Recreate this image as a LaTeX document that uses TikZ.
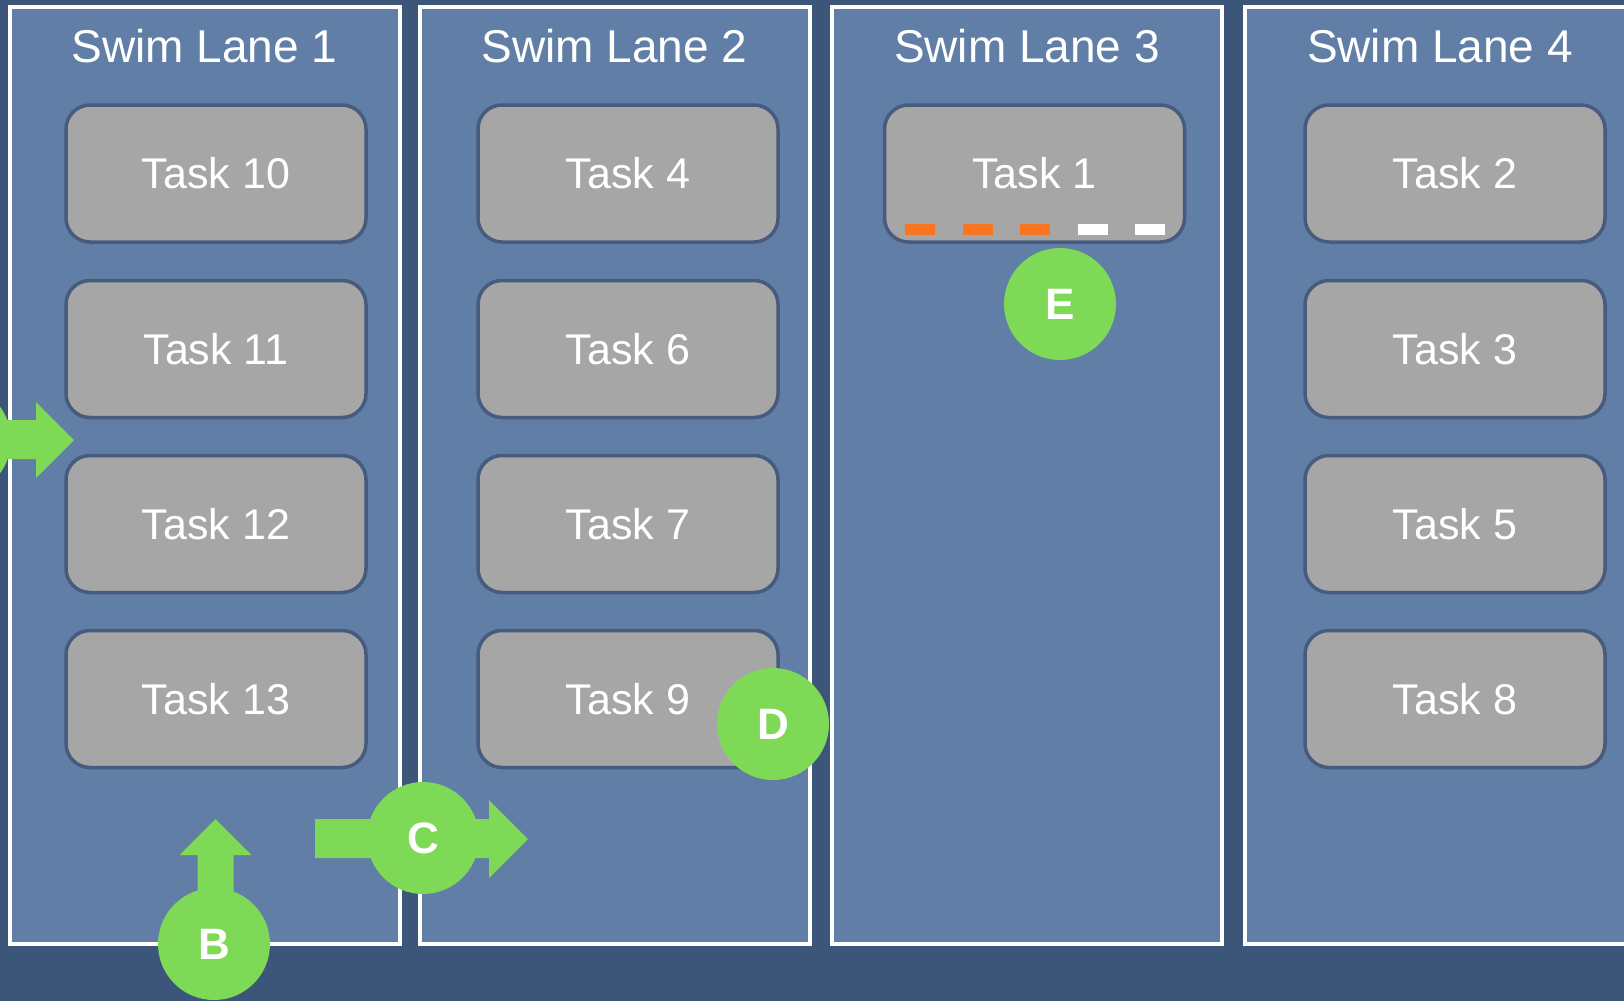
\documentclass[tikz,border=0pt]{standalone}
\usepackage{fontspec}
\setmainfont{Liberation Sans}
\definecolor{bg}{HTML}{3C5679}
\definecolor{lanec}{HTML}{617EA6}
\definecolor{taskfill}{HTML}{A6A6A6}
\definecolor{taskedge}{HTML}{465B7D}
\definecolor{grn}{HTML}{7ED957}
\definecolor{org}{HTML}{F97521}
\begin{document}
\begin{tikzpicture}[x=1pt,y=-1pt,
  lanebox/.style={draw=white, line width=4pt, fill=lanec, minimum width=390pt, minimum height=937.5pt, inner sep=0pt, outer sep=0pt},
  lanetitle/.style={text=white, font=\fontsize{46}{50}\selectfont, anchor=base, inner sep=0pt},
  taskbox/.style={draw=taskedge, line width=3.5pt, fill=taskfill, rounded corners=24pt, minimum width=300pt, minimum height=137pt, text=white, font=\fontsize{43}{46}\selectfont, inner sep=0pt},
  badge/.style={circle, fill=grn, minimum size=112pt, inner sep=0pt, text=white, font=\bfseries\fontsize{44}{46}\selectfont},
  blockarrow/.style={fill=grn},
  progon/.style={fill=org},
  progoff/.style={fill=white}]
\useasboundingbox (0,0) rectangle (1624,1001);
\clip (0,0) rectangle (1624,1001);
\fill[bg] (0,0) rectangle (1624,1001);
% lanes
\node[lanebox] (L1) at (204.5,475.25) {};
\node[lanebox] (L2) at (614.5,475.25) {};
\node[lanebox] (L3) at (1027,475.25) {};
\node[lanebox] (L4) at (1440,475.25) {};
\node[lanetitle] (T1) at (204.5,62) {Swim Lane 1};
\node[lanetitle] (T2) at (614.5,62) {Swim Lane 2};
\node[lanetitle] (T3) at (1027,62) {Swim Lane 3};
\node[lanetitle] (T4) at (1440,62) {Swim Lane 4};
% tasks lane 1
\node[taskbox] (t10) at (216,173.5) {Task 10};
\node[taskbox] (t11) at (216,349) {Task 11};
\node[taskbox] (t12) at (216,524) {Task 12};
\node[taskbox] (t13) at (216,699) {Task 13};
% lane 2
\node[taskbox] (t4) at (628,173.5) {Task 4};
\node[taskbox] (t6) at (628,349) {Task 6};
\node[taskbox] (t7) at (628,524) {Task 7};
\node[taskbox] (t9) at (628,699) {Task 9};
% lane 3
\node[taskbox] (t1) at (1034.5,173.5) {Task 1};
% lane 4
\node[taskbox] (t2) at (1455,173.5) {Task 2};
\node[taskbox] (t3) at (1455,349) {Task 3};
\node[taskbox] (t5) at (1455,524) {Task 5};
\node[taskbox] (t8) at (1455,699) {Task 8};
% progress dashes in Task 1
\fill[progon] (905,224) rectangle (935,235);
\fill[progon] (963,224) rectangle (993,235);
\fill[progon] (1020,224) rectangle (1050,235);
\fill[progoff] (1078,224) rectangle (1108,235);
\fill[progoff] (1135,224) rectangle (1165,235);
% block arrows
\fill[blockarrow] (-45,420) -- (36,420) -- (36,402) -- (74,440) -- (36,478) -- (36,459) -- (-45,459) -- cycle;
\fill[blockarrow] (197.5,944) -- (197.5,855) -- (179.5,855) -- (215.5,819) -- (251.5,855) -- (233.5,855) -- (233.5,944) -- cycle;
\fill[blockarrow] (315,819) -- (489,819) -- (489,800) -- (528,839) -- (489,878) -- (489,858) -- (315,858) -- cycle;
% badges
\node[badge] (A) at (-45,440) {};
\node[badge] (B) at (214,944) {B};
\node[badge] (C) at (423,838) {C};
\node[badge] (D) at (773,724) {D};
\node[badge] (E) at (1060,304) {E};
\end{tikzpicture}
\end{document}
